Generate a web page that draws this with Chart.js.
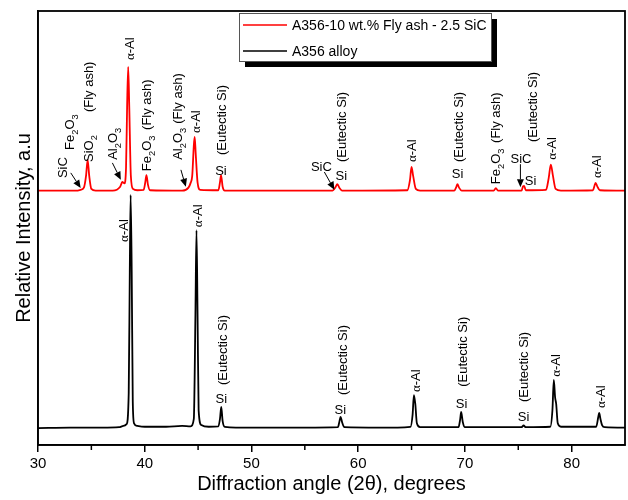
<!DOCTYPE html>
<html><head><meta charset="utf-8">
<script src="https://cdn.jsdelivr.net/npm/chart.js@4/dist/chart.umd.min.js"></script>
<style>html,body{margin:0;padding:0;background:#fff}</style>
</head><body>
<canvas id="c" width="628" height="500"></canvas>
<script>
// ---------- data ----------
const seriesNames = ['A356-10 wt.% Fly ash - 2.5 SiC', 'A356 alloy'];

const redAngle = [30.0,32.0,33.5,34.0,34.3,34.5,34.65,34.8,35.0,35.4,37.0,37.7,37.9,38.1,38.25,38.35,38.45,38.55,38.7,38.9,39.3,39.9,40.05,40.16,40.3,40.5,43.5,44.1,44.3,44.45,44.6,44.68,44.78,44.95,45.2,46.9,47.05,47.15,47.3,47.5,57.6,57.85,58.05,58.25,58.5,64.6,64.85,65.0,65.15,65.4,65.8,69.0,69.2,69.3,69.45,69.7,72.7,72.9,73.1,75.3,75.45,75.55,75.7,77.6,77.85,78.05,78.25,78.5,79.0,82.0,82.15,82.25,82.4,82.65,85.0];
const redIntensity = [58.6,58.6,58.6,58.8,59.3,62.0,65.7,62.0,59.0,58.6,58.6,59.5,60.6,60.3,64.0,78.0,87.1,78.0,62.0,59.0,58.7,58.8,60.5,62.2,60.0,58.7,58.6,59.3,60.4,62.0,69.0,71.0,67.0,60.5,58.8,58.7,60.5,62.2,59.5,58.6,58.6,59.3,60.1,59.2,58.6,58.7,61.0,64.1,62.0,59.0,58.6,58.6,59.5,60.1,59.3,58.6,58.6,59.2,58.6,58.6,59.6,59.7,58.7,58.8,61.5,64.6,62.0,59.0,58.6,58.7,59.8,60.4,59.6,58.7,58.6];

const blackAngle = [30.0,33.0,36.0,37.6,38.0,38.3,38.5,38.6,38.68,38.78,38.88,39.0,39.3,40.0,42.0,43.5,44.3,44.6,44.75,44.85,44.95,45.05,45.3,46.0,46.9,47.05,47.17,47.3,47.5,50.0,55.0,58.1,58.25,58.35,58.5,58.7,62.0,64.9,65.1,65.22,65.35,65.5,65.8,69.4,69.55,69.65,69.8,70.0,75.3,75.5,75.7,78.0,78.2,78.33,78.45,78.55,78.7,79.0,82.3,82.5,82.58,82.7,82.85,83.1,85.0];
const blackIntensity = [3.9,4.0,4.0,4.1,4.4,4.8,12.0,40.0,57.6,40.0,10.0,5.0,4.4,4.2,4.2,4.4,4.3,6.0,30.0,49.5,30.0,8.0,4.6,4.2,4.3,6.0,8.8,5.5,4.2,4.0,4.0,4.1,5.5,6.5,5.2,4.1,4.0,4.2,7.0,11.5,9.5,5.0,4.1,4.1,5.8,7.6,5.3,4.1,4.1,4.5,4.1,4.2,8.0,15.0,11.0,9.5,5.0,4.2,4.2,6.5,7.4,6.0,4.6,4.1,4.0];

const xTickValues = [30, 40, 50, 60, 70, 80];
const xMinorTickValues = [35, 45, 55, 65, 75];

// peak labels: text, 2θ, intensity level, rotated?
const peakLabels = [
  ['SiC', 32.25, 61.5, true],
  ['Fe_2O_3', 32.95, 68.0, true],
  ['SiO_2', 34.72, 65.2, true],
  ['(Fly ash)', 34.72, 76.7, true],
  ['Al_2O_3', 36.94, 65.7, true],
  ['α-Al', 38.54, 88.7, true],
  ['Fe_2O_3', 40.13, 63.1, true],
  ['(Fly ash)', 40.13, 72.6, true],
  ['Al_2O_3', 43.1, 65.7, true],
  ['(Fly ash)', 43.04, 74.0, true],
  ['α-Al', 44.73, 71.9, true],
  ['Si', 47.14, 63.4, false],
  ['(Eutectic Si)', 47.14, 66.8, true],
  ['SiC', 56.55, 64.1, false],
  ['Si', 58.42, 62.2, false],
  ['(Eutectic Si)', 58.42, 65.2, true],
  ['α-Al', 64.99, 65.2, true],
  ['Si', 69.31, 62.7, false],
  ['(Eutectic Si)', 69.4, 65.2, true],
  ['Fe_2O_3', 72.82, 60.1, true],
  ['(Fly ash)', 72.82, 69.6, true],
  ['SiC', 75.25, 66.1, false],
  ['Si', 76.15, 61.1, false],
  ['(Eutectic Si)', 76.34, 69.8, true],
  ['α-Al', 78.12, 65.7, true],
  ['α-Al', 82.35, 61.5, true],
  ['α-Al', 37.97, 46.8, true],
  ['α-Al', 44.92, 50.2, true],
  ['Si', 47.17, 10.8, false],
  ['(Eutectic Si)', 47.26, 13.8, true],
  ['Si', 58.33, 8.3, false],
  ['(Eutectic Si)', 58.52, 11.5, true],
  ['α-Al', 65.37, 12.2, true],
  ['Si', 69.68, 9.7, false],
  ['(Eutectic Si)', 69.77, 13.4, true],
  ['Si', 75.5, 6.7, false],
  ['(Eutectic Si)', 75.5, 9.9, true],
  ['α-Al', 78.5, 15.7, true],
  ['α-Al', 82.72, 8.5, true]
];
// arrows: from (2θ, level) to (2θ, level)
const peakArrows = [
  [33.07, 62.7, 34.0, 59.2],
  [36.97, 65.0, 37.76, 61.1],
  [43.39, 63.4, 43.85, 59.5],
  [56.83, 62.9, 57.77, 58.8],
  [75.2, 64.7, 75.2, 59.4]
];

// ---------- rendering ----------
const FONT = '"Liberation Sans", Arial, sans-serif';
const SERIF = '"Liberation Serif", "Times New Roman", serif';

function segs(text) {
  const out = [];
  for (let i = 0; i < text.length; i++) {
    const ch = text[i];
    if (ch === '_') { out.push({t: text[i+1], sub: true, serif: false}); i++; continue; }
    out.push({t: ch, sub: false, serif: ch === 'α'});
  }
  return out;
}
function setFont(ctx, s, size) {
  const sz = s.sub ? size * 0.72 : size;
  ctx.font = sz + 'px ' + (s.serif ? SERIF : FONT);
}
function measureRich(ctx, text, size) {
  let w = 0;
  for (const s of segs(text)) { setFont(ctx, s, size); w += ctx.measureText(s.t).width; }
  return w;
}
function drawRich(ctx, text, size, x0, base) {
  let x = x0;
  ctx.textBaseline = 'alphabetic';
  ctx.textAlign = 'left';
  for (const s of segs(text)) {
    setFont(ctx, s, size);
    ctx.fillText(s.t, x, base + (s.sub ? size * 0.3 : 0));
    x += ctx.measureText(s.t).width;
  }
}

const decorPlugin = {
  id: 'decor',
  afterDatasetsDraw(chart) {
    const ctx = chart.ctx, xs = chart.scales.x, ys = chart.scales.y;
    const size = 13;
    ctx.save();
    ctx.fillStyle = '#000';
    ctx.strokeStyle = '#000';
    for (const [text, a, v, rot] of peakLabels) {
      const px = xs.getPixelForValue(a), py = ys.getPixelForValue(v);
      if (rot) {
        ctx.save();
        ctx.translate(px, py);
        ctx.rotate(-Math.PI / 2);
        drawRich(ctx, text, size, 0, size * 0.36);
        ctx.restore();
      } else {
        const w = measureRich(ctx, text, size);
        drawRich(ctx, text, size, px - w / 2, py + size * 0.36);
      }
    }
    for (const [a1, v1, a2, v2] of peakArrows) {
      const x1 = xs.getPixelForValue(a1), y1 = ys.getPixelForValue(v1);
      const x2 = xs.getPixelForValue(a2), y2 = ys.getPixelForValue(v2);
      const ang = Math.atan2(y2 - y1, x2 - x1);
      const hl = 8, hw = 3.5;
      const bx = x2 - hl * Math.cos(ang), by = y2 - hl * Math.sin(ang);
      ctx.lineWidth = 1;
      ctx.beginPath(); ctx.moveTo(x1, y1); ctx.lineTo(bx, by); ctx.stroke();
      ctx.beginPath();
      ctx.moveTo(x2, y2);
      ctx.lineTo(bx - hw * Math.sin(ang), by + hw * Math.cos(ang));
      ctx.lineTo(bx + hw * Math.sin(ang), by - hw * Math.cos(ang));
      ctx.closePath(); ctx.fill();
    }
    ctx.restore();
  },
  afterDraw(chart) {
    const ctx = chart.ctx, ca = chart.chartArea, xs = chart.scales.x;
    ctx.save();
    // frame
    ctx.strokeStyle = '#000';
    ctx.lineWidth = 1.8;
    ctx.strokeRect(ca.left, ca.top, ca.right - ca.left, ca.bottom - ca.top);
    // minor ticks
    ctx.lineWidth = 1.5;
    for (const v of xMinorTickValues) {
      const x = xs.getPixelForValue(v);
      ctx.beginPath(); ctx.moveTo(x, ca.bottom); ctx.lineTo(x, ca.bottom + 5); ctx.stroke();
    }
    // legend with shadow
    const lx = 239, ly = 13, lw = 252, lh = 48;
    ctx.fillStyle = '#000';
    ctx.fillRect(lx + 6, ly + 6, lw, lh);
    ctx.fillStyle = '#fff';
    ctx.fillRect(lx, ly, lw, lh);
    ctx.strokeStyle = '#555';
    ctx.lineWidth = 1;
    ctx.strokeRect(lx + 0.5, ly + 0.5, lw, lh);
    chart.data.datasets.forEach((ds, i) => {
      const y = ly + 12 + i * 26;
      ctx.strokeStyle = ds.borderColor;
      ctx.lineWidth = 1.5;
      ctx.beginPath(); ctx.moveTo(lx + 4, y); ctx.lineTo(lx + 48, y); ctx.stroke();
      ctx.fillStyle = '#000';
      ctx.font = '14px ' + FONT;
      ctx.textBaseline = 'middle';
      ctx.textAlign = 'left';
      ctx.fillText(ds.label, lx + 53, y + 1);
    });
    ctx.restore();
  }
};

const toPts = (xa, ya) => xa.map((a, i) => ({x: a, y: ya[i]}));

new Chart(document.getElementById('c'), {
  type: 'line',
  data: {
    datasets: [
      {label: seriesNames[0], data: toPts(redAngle, redIntensity), borderColor: '#ff0000', borderWidth: 1.8, pointRadius: 0, cubicInterpolationMode: 'monotone', fill: false},
      {label: seriesNames[1], data: toPts(blackAngle, blackIntensity), borderColor: '#000000', borderWidth: 1.8, pointRadius: 0, cubicInterpolationMode: 'monotone', fill: false}
    ]
  },
  options: {
    responsive: false,
    animation: false,
    devicePixelRatio: 1,
    layout: {padding: {left: 8, right: 3, top: 11, bottom: 0}},
    plugins: {legend: {display: false}, tooltip: {enabled: false}},
    scales: {
      x: {
        type: 'linear', min: 30, max: 85,
        afterBuildTicks: s => { s.ticks = xTickValues.map(v => ({value: v})); },
        afterFit: s => { s.height = 55; },
        ticks: {font: {family: FONT, size: 15}, color: '#000', padding: 3, maxRotation: 0, autoSkip: false},
        grid: {display: true, drawOnChartArea: false, drawTicks: true, tickLength: 7, color: '#000', lineWidth: 1.5},
        border: {display: true, color: '#000', width: 1.5},
        title: {display: true, text: 'Diffraction angle (2θ), degrees', font: {family: FONT, size: 20}, color: '#000'}
      },
      y: {
        min: 0, max: 100,
        afterFit: s => { s.width = 30; },
        ticks: {display: false},
        grid: {display: false},
        border: {display: true, color: '#000', width: 1.5},
        title: {display: true, text: 'Relative Intensity, a.u', font: {family: FONT, size: 20}, color: '#000'}
      }
    }
  },
  plugins: [decorPlugin]
});
</script>
</body></html>
